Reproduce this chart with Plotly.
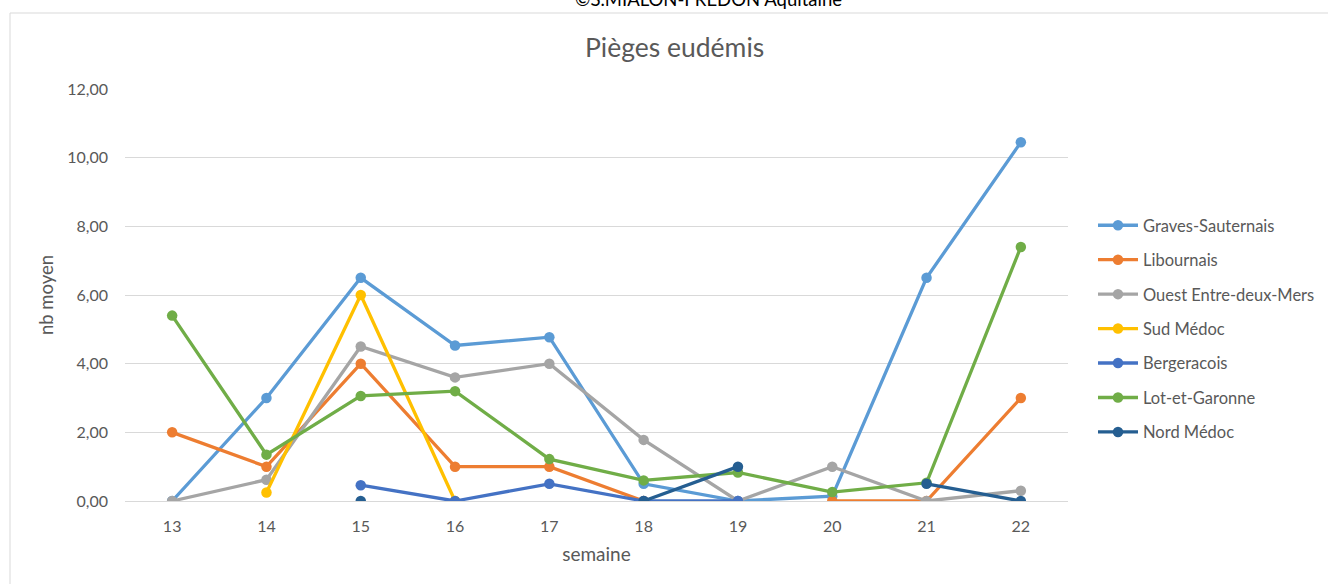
import plotly.graph_objects as go

weeks = [13, 14, 15, 16, 17, 18, 19, 20, 21, 22]

series_names = ["Graves-Sauternais", "Libournais", "Ouest Entre-deux-Mers", "Sud Médoc",
                "Bergeracois", "Lot-et-Garonne", "Nord Médoc"]

graves_sauternais = [0, 3.0, 6.5, 4.53, 4.77, 0.5, 0, 0.14, 6.5, 10.45]
libournais = [2.0, 1.0, 4.0, 1.0, 1.0, 0, None, 0, 0, 3.0]
ouest_entre_deux_mers = [0, 0.62, 4.5, 3.6, 4.0, 1.78, 0, 1.0, 0, 0.3]
sud_medoc = [None, 0.25, 6.0, 0, None, None, None, None, None, None]
bergeracois = [None, None, 0.46, 0, 0.5, 0, 0, None, None, None]
lot_et_garonne = [5.4, 1.35, 3.06, 3.2, 1.22, 0.6, 0.83, 0.26, 0.53, 7.4]
nord_medoc = [None, None, 0, None, None, 0, 1.0, None, 0.5, 0]

series_values = [graves_sauternais, libournais, ouest_entre_deux_mers, sud_medoc,
                 bergeracois, lot_et_garonne, nord_medoc]
colors = ["#5B9BD5", "#ED7D31", "#A5A5A5", "#FFC000", "#4472C4", "#70AD47", "#255E91"]

y_ticks = [0, 2, 4, 6, 8, 10, 12]

FONT = "Lato"
TXT = "#595959"

fig = go.Figure()
for i, (name, vals, col) in enumerate(zip(series_names, series_values, colors)):
    fig.add_trace(go.Scatter(
        x=weeks, y=vals, name=name, mode="lines+markers",
        line=dict(color=col, width=3.3),
        marker=dict(color=col, size=10.5),
        connectgaps=False,
        legendgroup=f"g{i}",
    ))

# body margin is removed below, so page pixels == figure pixels
FW, FH = 1328, 584
L, R, T, B = 125, 1068, 89, 501
W, H = R - L, B - T

def px(xp):
    return (xp - L) / W

def py(yp):
    return (B - yp) / H

fig.update_layout(
    width=FW, height=FH,
    margin=dict(l=L, r=FW - R, t=T, b=FH - B, autoexpand=False),
    paper_bgcolor="white", plot_bgcolor="white",
    font=dict(family=FONT, color=TXT, size=16),
    separators=", ",
    showlegend=True,
    legend=dict(
        x=px(1093), xanchor="left", y=py(329), yanchor="middle",
        font=dict(size=16.5, color=TXT, family=FONT),
        tracegroupgap=10, traceorder="grouped",
        itemwidth=40,
    ),
    xaxis=dict(
        range=[12.5, 22.5], tickmode="array", tickvals=weeks,
        ticktext=[str(w) for w in weeks],
        showgrid=False, zeroline=False, showline=False, ticks="",
        ticklabelstandoff=14,
        tickfont=dict(size=16, color=TXT, family=FONT),
        title=dict(text="semaine", font=dict(size=19, color=TXT, family=FONT), standoff=13),
        fixedrange=True,
    ),
    yaxis=dict(
        range=[0, 12], tickmode="array", tickvals=y_ticks, tickformat=".2f",
        showgrid=True, gridcolor="#D9D9D9", gridwidth=1,
        zeroline=True, zerolinecolor="#D9D9D9", zerolinewidth=1,
        showline=False, ticks="", ticklabelstandoff=16,
        tickfont=dict(size=16, color=TXT, family=FONT),
        title=dict(text="nb moyen", font=dict(size=18.5, color=TXT, family=FONT), standoff=8),
        fixedrange=True,
    ),
    shapes=[dict(
        type="rect", xref="paper", yref="paper",
        x0=px(10), x1=px(1345), y0=py(600), y1=py(13),
        line=dict(color="#D9D9D9", width=1), fillcolor="rgba(0,0,0,0)", layer="below",
    )],
    annotations=[
        dict(text="Pièges eudémis", xref="paper", yref="paper", x=px(674), y=py(47),
             xanchor="center", yanchor="middle", showarrow=False,
             font=dict(size=26.5, color=TXT, family=FONT)),
        dict(text="©S.MIALON-FREDON Aquitaine", xref="paper", yref="paper", x=px(708), y=py(12),
             xanchor="center", yanchor="bottom", showarrow=False,
             font=dict(size=18.5, color="#000000", family=FONT)),
    ],
)

fig.write_html(
    "out.html",
    config={"displayModeBar": False},
    post_script="document.body.style.margin='0';document.body.style.overflow='hidden';",
)
